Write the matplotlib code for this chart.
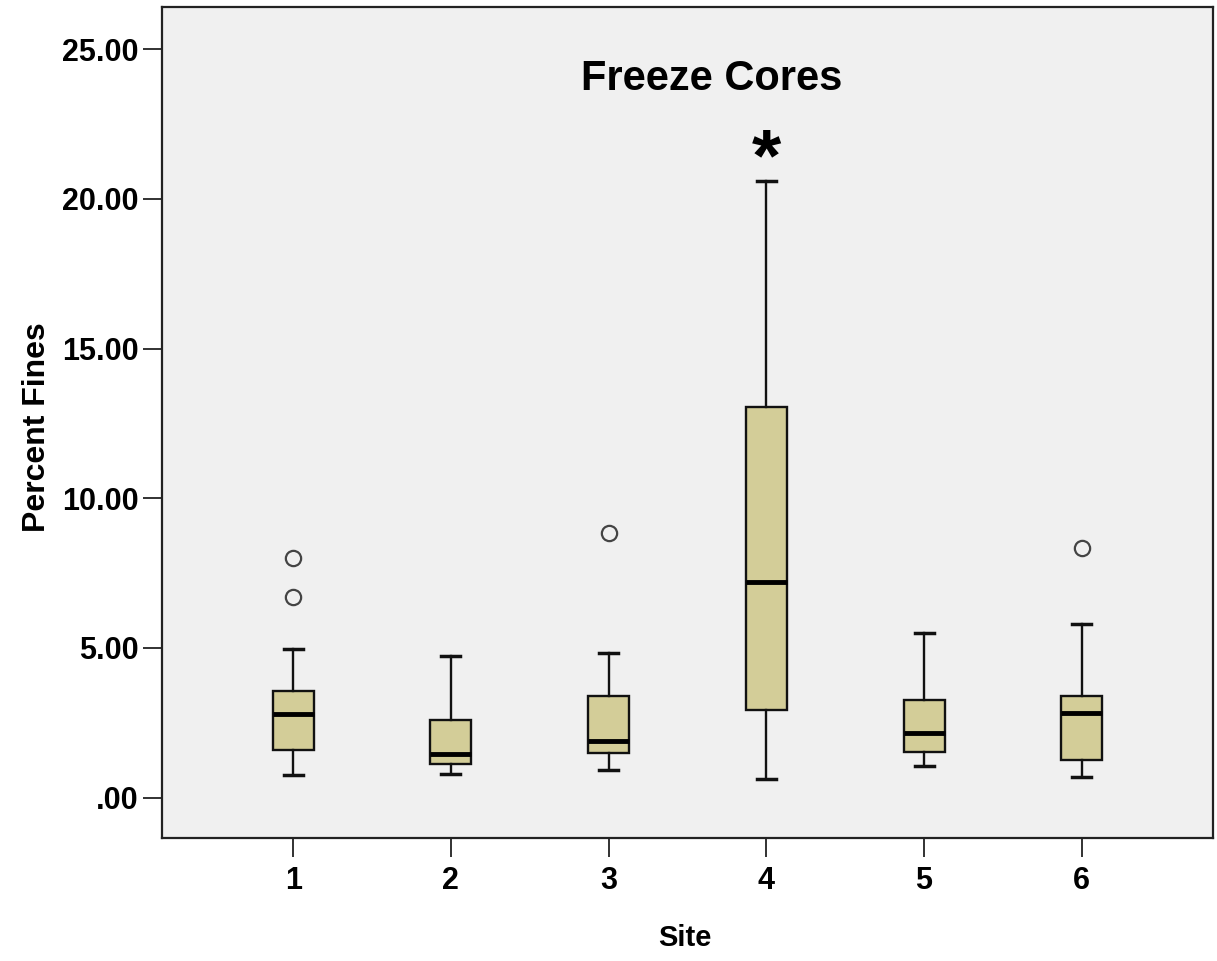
import matplotlib
matplotlib.use("Agg")
import matplotlib.pyplot as plt
from matplotlib.textpath import TextPath
from matplotlib.font_manager import FontProperties
import numpy as np

# ---- data ----
sites = [1, 2, 3, 4, 5, 6]
site_labels = ["1", "2", "3", "4", "5", "6"]
whislo = [0.75, 0.79, 0.93, 0.63, 1.07, 0.69]
q1 = [1.58, 1.13, 1.48, 2.92, 1.52, 1.26]
med = [2.79, 1.46, 1.88, 7.20, 2.15, 2.82]
q3 = [3.57, 2.59, 3.39, 13.05, 3.26, 3.40]
whishi = [4.96, 4.74, 4.82, 20.60, 5.49, 5.81]
outliers = [[8.02, 6.71], [], [8.85], [], [], [8.35]]
extremes = [[], [], [], [21.87], [], []]
yticks = [0, 5, 10, 15, 20, 25]
ytick_labels = [".00", "5.00", "10.00", "15.00", "20.00", "25.00"]
title = "Freeze Cores"
xlabel = "Site"
ylabel = "Percent Fines"

FONT = "Liberation Sans"
plt.rcParams['font.family'] = [FONT, 'DejaVu Sans']

W, H = 1217, 961
fig = plt.figure(figsize=(W / 100, H / 100), dpi=100, facecolor="white")
ax = fig.add_axes([162.3 / W, 1 - 838.3 / H, (1212.7 - 162.3) / W, (838.3 - 7.3) / H])
ax.set_facecolor("#F0F0F0")

stats = []
for i in range(len(sites)):
    stats.append(dict(med=med[i], q1=q1[i], q3=q3[i], whislo=whislo[i],
                      whishi=whishi[i], fliers=outliers[i], label=site_labels[i]))

ax.bxp(stats, positions=sites, widths=0.26, capwidths=0.12, patch_artist=True,
       boxprops=dict(facecolor="#D3CD98", edgecolor="#111111", linewidth=1.7),
       medianprops=dict(color="black", linewidth=3.5, solid_capstyle="butt"),
       whiskerprops=dict(color="#111111", linewidth=1.7),
       capprops=dict(color="#111111", linewidth=2.5),
       flierprops=dict(marker="o", markersize=11, markerfacecolor="none",
                       markeredgecolor="#444444", markeredgewidth=1.6, linestyle="none"))

# extreme values drawn as asterisks (text glyph, centred on the value)
fp = FontProperties(family=FONT, weight="bold")
tp = TextPath((0, 0), "*", prop=fp, size=100)
ext = tp.get_extents()
glyph_h = (ext.y1 - ext.y0) / 100.0          # glyph height in em
glyph_c = (ext.y0 + ext.y1) / 2 / 100.0      # glyph centre above baseline, in em
target_pt = 28 * 0.72                         # ~28 px tall
fsize = target_pt / glyph_h
for i, vals in enumerate(extremes):
    for v in vals:
        ax.annotate("*", xy=(sites[i], v), xytext=(0, -glyph_c * fsize),
                    textcoords="offset points", ha="center", va="baseline",
                    fontsize=fsize, fontweight="bold", color="black")

ax.set_xlim(0.17, 6.83)
ax.set_ylim(-1.36, 26.4)
ax.set_xticks(sites)
ax.set_xticklabels(site_labels)
ax.set_yticks(yticks)
ax.set_yticklabels(ytick_labels)
ax.tick_params(axis="both", direction="out", length=14, width=1.3, color="#222222",
               labelsize=22, pad=3)
ax.tick_params(axis="x", pad=6)
for lab in ax.get_xticklabels() + ax.get_yticklabels():
    lab.set_fontweight("bold")
for sp in ax.spines.values():
    sp.set_linewidth(1.6)
    sp.set_color("#222222")

fig.text(711.5 / W, 1 - 90 / H, title, ha="center", va="baseline",
         fontsize=30, fontweight="bold")
fig.text(685 / W, 1 - 946 / H, xlabel, ha="center", va="baseline",
         fontsize=21, fontweight="bold")
fig.text(45 / W, 1 - 427 / H, ylabel, ha="center", va="baseline",
         fontsize=23, fontweight="bold", rotation=90, rotation_mode="anchor")

fig.savefig("out.png", dpi=100, facecolor="white")
